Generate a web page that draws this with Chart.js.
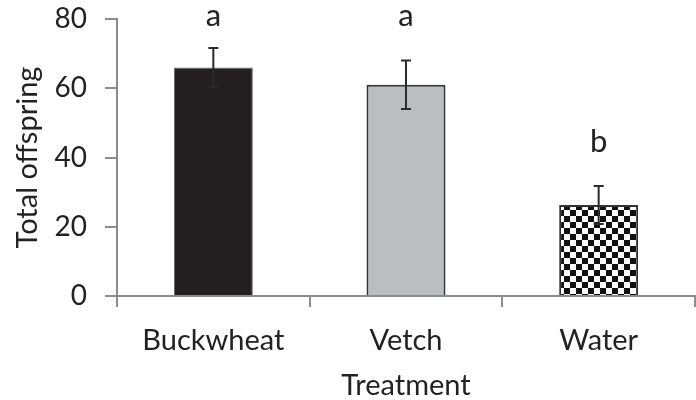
<!DOCTYPE html>
<html>
<head>
<meta charset="utf-8">
<script src="https://cdn.jsdelivr.net/npm/chart.js@4"></script>
<style>
  body { margin: 0; background: #fff; }
  #wrap { width: 696px; height: 400px; }
</style>
</head>
<body>
<div id="wrap"><canvas id="chart" width="696" height="400"></canvas></div>
<script>
var categories = ['Buckwheat', 'Vetch', 'Water'];
var offspring = [66, 61, 26.3];
var errors = [5.6, 7, 5.5];
var letters = ['a', 'a', 'b'];
var letterValues = [78, 78, 41.6];
var yTicks = [0, 20, 40, 60, 80];

var FONT = 'Lato';

function checker() {
    var c = document.createElement('canvas');
    c.width = 12; c.height = 12;
    var g = c.getContext('2d');
    g.fillStyle = '#fff';
    g.fillRect(0, 0, 12, 12);
    g.fillStyle = '#111';
    g.fillRect(0, 0, 6, 6);
    g.fillRect(6, 6, 6, 6);
    return g.createPattern(c, 'repeat');
}

var errorBars = {
    id: 'errorBars',
    afterDatasetsDraw: function(chart) {
        var ctx = chart.ctx;
        var y = chart.scales.y;
        var meta = chart.getDatasetMeta(0);
        ctx.save();
        ctx.strokeStyle = '#2b2b2b';
        ctx.lineWidth = 2;
        meta.data.forEach(function(bar, i) {
            var x = bar.x;
            var top = y.getPixelForValue(offspring[i] + errors[i]);
            var bot = y.getPixelForValue(offspring[i] - errors[i]);
            ctx.beginPath();
            ctx.moveTo(x, top); ctx.lineTo(x, bot);
            ctx.moveTo(x - 5, top); ctx.lineTo(x + 5, top);
            ctx.moveTo(x - 5, bot); ctx.lineTo(x + 5, bot);
            ctx.stroke();
        });
        ctx.fillStyle = '#222';
        ctx.font = '31px ' + FONT;
        ctx.textAlign = 'center';
        ctx.textBaseline = 'alphabetic';
        meta.data.forEach(function(bar, i) {
            ctx.fillText(letters[i], bar.x, y.getPixelForValue(letterValues[i]));
        });
        ctx.restore();
    }
};

var ctx = document.getElementById('chart');
var myChart = new Chart(ctx, {
    type: 'bar',
    data: {
        labels: categories,
        datasets: [{
            data: offspring,
            backgroundColor: ['#231f20', '#bcbdc0', checker()],
            borderColor: ['#6a6a6a', '#333333', '#333333'],
            borderWidth: [1, 2, 2],
            barPercentage: 0.41,
            categoryPercentage: 1
        }]
    },
    options: {
        responsive: false,
        animation: false,
        layout: { padding: { top: 19, right: 1, left: 0, bottom: 0 } },
        plugins: {
            legend: { display: false },
            tooltip: { enabled: false }
        },
        scales: {
            x: {
                offset: true,
                afterFit: function(axis) { axis.height = 104; },
                grid: {
                    offset: true,
                    drawOnChartArea: false,
                    color: '#8c8c8c',
                    lineWidth: 2,
                    tickLength: 11
                },
                border: { color: '#8c8c8c', width: 2 },
                ticks: { color: '#222', font: { family: FONT, size: 29 }, padding: 16, maxRotation: 0 },
                title: {
                    display: true,
                    text: 'Treatment',
                    color: '#222',
                    font: { family: FONT, size: 29, lineHeight: 1.0 },
                    padding: { top: 0, bottom: 0 }
                }
            },
            y: {
                min: 0,
                max: 80,
                afterFit: function(axis) {
                    axis.width = 117;
                    axis.paddingTop = 0;
                    axis.paddingBottom = 0;
                },
                afterBuildTicks: function(axis) {
                    axis.ticks = yTicks.map(function(v) { return { value: v }; });
                },
                grid: {
                    drawOnChartArea: false,
                    color: '#8c8c8c',
                    lineWidth: 2,
                    tickLength: 12
                },
                border: { color: '#8c8c8c', width: 2 },
                ticks: { color: '#222', font: { family: FONT, size: 28 }, padding: 18 },
                title: {
                    display: true,
                    text: 'Total offspring',
                    color: '#222',
                    font: { family: FONT, size: 29 },
                    padding: { top: 10, bottom: 0 }
                }
            }
        }
    },
    plugins: [errorBars]
});
</script>
</body>
</html>
